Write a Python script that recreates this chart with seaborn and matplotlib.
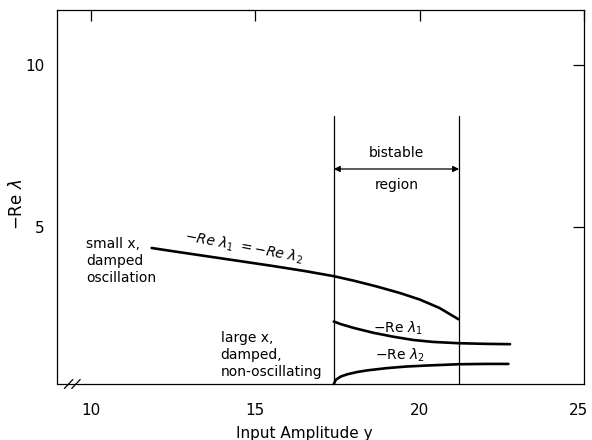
import numpy as np
import pandas as pd
import matplotlib
matplotlib.use("Agg")
import matplotlib.pyplot as plt
import matplotlib.transforms as mtransforms
import seaborn as sns

# Upper branch: small x, damped oscillation (-Re λ1 = -Re λ2)
upper_x = [11.85, 12.5, 13.5, 14.5, 15.5, 16.5, 17.39, 18.0, 18.7, 19.4, 20.0, 20.6, 21.18]
upper_y = [4.35, 4.25, 4.10, 3.95, 3.80, 3.64, 3.48, 3.34, 3.16, 2.96, 2.76, 2.50, 2.15]

# Lower branch: large x, -Re λ1
lam1_x = [17.39, 17.6, 18.0, 18.6, 19.2, 19.8, 20.4, 21.18, 22.0, 22.75]
lam1_y = [2.08, 2.00, 1.88, 1.73, 1.61, 1.51, 1.45, 1.41, 1.39, 1.38]

# Lower branch: large x, -Re λ2
lam2_x = [17.39, 17.45, 17.6, 17.8, 18.1, 18.4, 19.0, 19.6, 20.2, 21.18, 22.0, 22.7]
lam2_y = [0.15, 0.28, 0.38, 0.45, 0.52, 0.57, 0.64, 0.69, 0.72, 0.76, 0.77, 0.77]

# Edges of the bistable region
bistable_lo, bistable_hi = 17.39, 21.2
bistable_top = 8.43
arrow_y = 6.79

x_ticks = [10, 15, 20, 25]
y_ticks = [5, 10]

sns.set_style("white")
plt.rcParams["font.family"] = ["DejaVu Sans"]
plt.rcParams["mathtext.fontset"] = "dejavusans"
plt.rcParams["text.color"] = "black"
plt.rcParams["axes.labelcolor"] = "black"

fig = plt.figure(figsize=(5.92, 4.40), dpi=100)
ax = fig.add_axes([57 / 592, 56 / 440, 527 / 592, 374 / 440])

curves = pd.concat([
    pd.DataFrame({"y_in": upper_x, "re": upper_y, "branch": "upper"}),
    pd.DataFrame({"y_in": lam1_x, "re": lam1_y, "branch": "lam1"}),
    pd.DataFrame({"y_in": lam2_x, "re": lam2_y, "branch": "lam2"}),
])
sns.lineplot(data=curves, x="y_in", y="re", units="branch", estimator=None,
             sort=False, color="black", linewidth=1.9, ax=ax, legend=False,
             clip_on=False)

# Bistable region boundaries and arrow
for xv in (bistable_lo, bistable_hi):
    ax.plot([xv, xv], [0.15, bistable_top], color="black", lw=0.9)
ax.annotate("", xy=(bistable_lo, arrow_y), xytext=(bistable_hi, arrow_y),
            arrowprops=dict(arrowstyle="<|-|>", color="black", lw=0.9,
                            mutation_scale=9, shrinkA=0, shrinkB=0))
mid = (bistable_lo + bistable_hi) / 2
ax.text(mid, 7.28, "bistable", ha="center", va="center", fontsize=10)
ax.text(mid, 6.30, "region", ha="center", va="center", fontsize=10)

# Curve annotations
ax.text(9.85, 3.95, "small x,\ndamped\noscillation", ha="left", va="center",
        fontsize=10, linespacing=1.25)
ax.text(13.95, 1.05, "large x,\ndamped,\nnon-oscillating", ha="left", va="center",
        fontsize=10, linespacing=1.25)
ax.text(14.65, 4.36, r"$-Re\ \lambda_1\ =-Re\ \lambda_2$", ha="center",
        va="center", fontsize=10, rotation=-10.5, rotation_mode="anchor")
ax.text(19.35, 1.88, r"$-\mathrm{Re}\ \lambda_1$", ha="center", va="center",
        fontsize=10)
ax.text(19.4, 1.05, r"$-\mathrm{Re}\ \lambda_2$", ha="center", va="center",
        fontsize=10)

ax.set_xlim(8.97, 25)
ax.set_ylim(0.15, 11.7)
ax.set_xticks(x_ticks)
ax.set_yticks(y_ticks)
ax.set_xticklabels([str(t) for t in x_ticks])
ax.set_yticklabels([str(t) for t in y_ticks])
ax.tick_params(direction="in", length=8, width=0.9, labelsize=11,
               top=True, right=True, labeltop=False, labelright=False,
               color="black", labelcolor="black")
ax.tick_params(axis="x", pad=14)
ax.tick_params(axis="y", pad=9)
for side in ["left", "right", "top", "bottom"]:
    ax.spines[side].set_visible(True)
    ax.spines[side].set_color("black")
    ax.spines[side].set_linewidth(0.9)

# Nudge the last x tick label so it stays inside the canvas
last = ax.get_xticklabels()[-1]
last.set_transform(last.get_transform() +
                   mtransforms.ScaledTranslation(-5 / 100, 0, fig.dpi_scale_trans))

ax.set_xlabel("Input Amplitude y", fontsize=11)
ax.set_ylabel(r"$-\mathrm{Re}\ \lambda$", fontsize=12)
ax.yaxis.set_label_coords(-0.058, 0.48)
ax.xaxis.set_label_coords(0.47, -0.112)

# Axis break marks on the bottom spine
ax.spines["bottom"].set_bounds(9.0, 25)
ax.plot([0.018, 0.043], [-0.012, 0.012], transform=ax.transAxes,
        color="white", lw=4, clip_on=False, solid_capstyle="butt")
for dx in (0.0, 0.014):
    ax.plot([0.014 + dx, 0.030 + dx], [-0.012, 0.012], transform=ax.transAxes,
            color="black", lw=0.9, clip_on=False)

fig.savefig("out.png", dpi=100, facecolor="white")
